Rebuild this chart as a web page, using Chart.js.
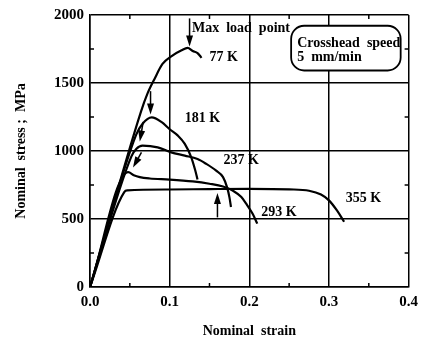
<!DOCTYPE html>
<html>
<head>
<meta charset="utf-8">
<title>Nominal stress vs nominal strain</title>
<script src="https://cdn.jsdelivr.net/npm/chart.js@4.4.0/dist/chart.umd.min.js"></script>
<style>
  html, body { margin: 0; padding: 0; background: #fff; }
  #wrap { width: 424px; height: 340px; }
</style>
</head>
<body>
<div id="wrap"><canvas id="stress-chart" width="424" height="340"></canvas></div>
<script>
// Curve labels
const temps = ["77 K", "181 K", "237 K", "293 K", "355 K"];

// Nominal strain and nominal stress (MPa)
const strain77 = [0, 0.064, 0.072, 0.081, 0.091, 0.1025, 0.115, 0.1225, 0.129, 0.135, 0.138, 0.14];
const stress77 = [0, 1290, 1420, 1530, 1640, 1698, 1740, 1758, 1735, 1720, 1700, 1685];

const strain181 = [0, 0.058, 0.066, 0.0775, 0.09, 0.1, 0.11, 0.119, 0.127, 0.132, 0.135];
const stress181 = [0, 1120, 1200, 1247, 1212, 1160, 1115, 1052, 955, 860, 790];

const strain237 = [0, 0.052, 0.058, 0.066, 0.085, 0.102, 0.119, 0.135, 0.146, 0.158, 0.167, 0.172, 0.175, 0.177];
const stress237 = [0, 960, 1015, 1040, 1027, 990, 966, 941, 905, 857, 808, 734, 661, 588];

const strain293 = [0, 0.048, 0.055, 0.0625, 0.075, 0.1, 0.129, 0.15, 0.167, 0.179, 0.19, 0.196, 0.204, 0.21];
const stress293 = [0, 844, 822, 808, 798, 790, 776, 759, 739, 710, 661, 613, 540, 466];

const strain355 = [0, 0.043, 0.047, 0.1, 0.15, 0.2, 0.25, 0.275, 0.29, 0.3, 0.31, 0.319];
const stress355 = [0, 698, 710, 717, 720, 722, 718, 708, 680, 637, 563, 480];

// Axis ticks
const strainTicks = [0, 0.1, 0.2, 0.3, 0.4];
const stressTicks = [0, 500, 1000, 1500, 2000];

// Where the temperature labels sit (strain, stress)
const labelPos = [[0.15, 1691], [0.119, 1237], [0.1675, 930], [0.215, 549], [0.321, 652]];

// Arrows: [fromStrain, fromStress, toStrain, toStress]
const arrows = [
    [0.125, 1975, 0.125, 1768],
    [0.076, 1440, 0.076, 1268],
    [0.0668, 1215, 0.0625, 1070],
    [0.0646, 990, 0.054, 878],
    [0.16, 512, 0.16, 692]
];

Chart.defaults.font.family = "'Liberation Serif', 'DejaVu Serif', serif";
Chart.defaults.font.weight = "bold";
Chart.defaults.color = "#000";

function toPoints(xs, ys) {
    return xs.map((x, i) => ({ x: x, y: ys[i] }));
}

const curves = [
    toPoints(strain77, stress77),
    toPoints(strain181, stress181),
    toPoints(strain237, stress237),
    toPoints(strain293, stress293),
    toPoints(strain355, stress355)
];

// Arrows, minor ticks, labels and the little box
const annotations = {
    id: "annotations",
    afterDatasetsDraw(chart) {
        const ctx = chart.ctx;
        const sx = chart.scales.x;
        const sy = chart.scales.y;
        const area = chart.chartArea;
        const px = (v) => sx.getPixelForValue(v);
        const py = (v) => sy.getPixelForValue(v);

        ctx.save();
        ctx.strokeStyle = "#000";
        ctx.fillStyle = "#000";

        // minor tick marks, inside the frame
        ctx.lineWidth = 1.5;
        ctx.beginPath();
        [250, 750, 1250, 1750].forEach((v) => {
            ctx.moveTo(area.left, py(v)); ctx.lineTo(area.left + 4, py(v));
            ctx.moveTo(area.right, py(v)); ctx.lineTo(area.right - 4, py(v));
        });
        [0.05, 0.15, 0.25, 0.35].forEach((v) => {
            ctx.moveTo(px(v), area.bottom); ctx.lineTo(px(v), area.bottom - 4);
            ctx.moveTo(px(v), area.top); ctx.lineTo(px(v), area.top + 4);
        });
        ctx.stroke();

        // arrows
        arrows.forEach((a) => {
            const x1 = px(a[0]), y1 = py(a[1]), x2 = px(a[2]), y2 = py(a[3]);
            const ang = Math.atan2(y2 - y1, x2 - x1);
            ctx.lineWidth = 1.5;
            ctx.beginPath();
            ctx.moveTo(x1, y1);
            ctx.lineTo(x2 - 6 * Math.cos(ang), y2 - 6 * Math.sin(ang));
            ctx.stroke();
            ctx.beginPath();
            ctx.moveTo(x2, y2);
            ctx.lineTo(x2 - 11 * Math.cos(ang) + 3.5 * Math.sin(ang), y2 - 11 * Math.sin(ang) - 3.5 * Math.cos(ang));
            ctx.lineTo(x2 - 11 * Math.cos(ang) - 3.5 * Math.sin(ang), y2 - 11 * Math.sin(ang) + 3.5 * Math.cos(ang));
            ctx.closePath();
            ctx.fill();
        });

        // temperature labels
        ctx.font = "bold 14px 'Liberation Serif', serif";
        ctx.textBaseline = "middle";
        ctx.textAlign = "left";
        temps.forEach((t, i) => {
            ctx.fillText(t, px(labelPos[i][0]), py(labelPos[i][1]));
        });
        ctx.fillText("Max  load  point", px(0.128), py(1905));

        // crosshead speed box
        const bx = px(0.2525), by = py(1921);
        const bw = px(0.39) - bx, bh = py(1592) - by;
        ctx.beginPath();
        ctx.roundRect(bx, by, bw, bh, 13);
        ctx.fillStyle = "#fff";
        ctx.fill();
        ctx.lineWidth = 1.8;
        ctx.stroke();
        ctx.fillStyle = "#000";
        ctx.fillText("Crosshead  speed", bx + 6, by + 18);
        ctx.fillText("5  mm/min", bx + 6, by + 32);

        ctx.restore();
    }
};

new Chart(document.getElementById("stress-chart"), {
    type: "scatter",
    data: {
        datasets: curves.map((pts, i) => ({
            label: temps[i],
            data: pts,
            showLine: true,
            borderColor: "#000",
            borderWidth: 2.2,
            pointRadius: 0,
            cubicInterpolationMode: "monotone"
        }))
    },
    options: {
        responsive: false,
        animation: false,
        devicePixelRatio: 1,
        layout: { padding: { top: 14, right: 15, left: 0, bottom: 0 } },
        plugins: {
            legend: { display: false },
            tooltip: { enabled: false }
        },
        scales: {
            x: {
                type: "linear",
                min: 0,
                max: 0.4,
                afterBuildTicks: (scale) => { scale.ticks = strainTicks.map((v) => ({ value: v })); },
                afterFit: (scale) => { scale.height = 53; },
                grid: { color: "#000", lineWidth: 1.5, drawTicks: false },
                border: { color: "#000", width: 1.5 },
                ticks: {
                    padding: 6,
                    font: { size: 15 },
                    callback: (v) => v.toFixed(1)
                },
                title: {
                    display: true,
                    text: "Nominal  strain",
                    font: { size: 14 },
                    padding: { top: 2, bottom: 0 }
                }
            },
            y: {
                min: 0,
                max: 2000,
                afterBuildTicks: (scale) => { scale.ticks = stressTicks.map((v) => ({ value: v })); },
                afterFit: (scale) => { scale.width = 90; },
                grid: { color: "#000", lineWidth: 1.5, drawTicks: false },
                border: { color: "#000", width: 1.5 },
                ticks: {
                    padding: 6,
                    font: { size: 15 },
                    callback: (v) => String(v)
                },
                title: {
                    display: true,
                    text: "Nominal  stress ;  MPa",
                    font: { size: 14 },
                    padding: { top: 13, bottom: 0 }
                }
            }
        }
    },
    plugins: [annotations]
});
</script>
</body>
</html>
